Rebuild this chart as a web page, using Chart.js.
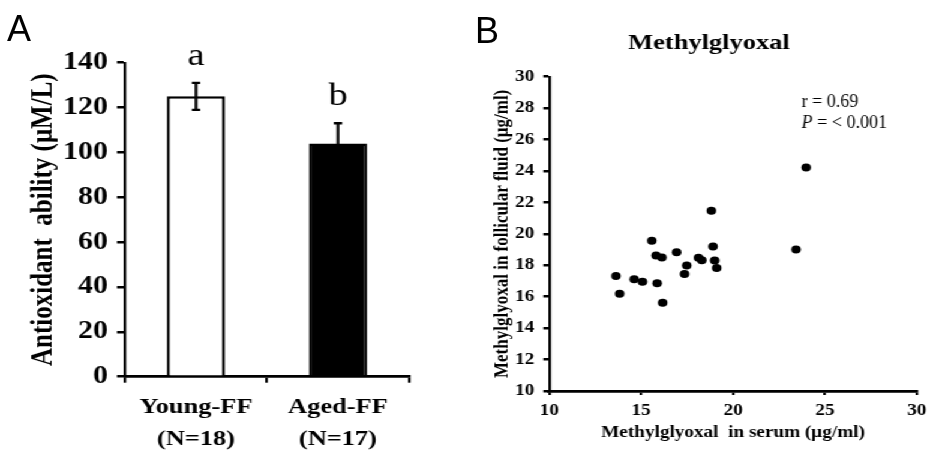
<!DOCTYPE html>
<html><head><meta charset="utf-8">
<script src="https://cdn.jsdelivr.net/npm/chart.js@4"></script>
<style>
html,body{margin:0;padding:0;background:#fff;width:933px;height:450px;overflow:hidden;}
#stretch{position:absolute;left:0;top:0;width:778px;height:450px;transform:scaleX(1.2);transform-origin:0 0;}
#cA{position:absolute;left:0;top:0;}
#cB{position:absolute;left:388px;top:0;}
.panel{position:absolute;font-family:'Liberation Sans',Arial,sans-serif;font-size:36px;line-height:1;color:#000;}
</style></head><body>
<div id="stretch"><canvas id="cA" width="388" height="450"></canvas><canvas id="cB" width="390" height="450"></canvas></div>
<div class="panel" style="left:7px;top:11px;">A</div>
<div class="panel" style="left:475px;top:13px;">B</div>
<script>
// ---- Panel A data ----
const groupNames = ['Young-FF', 'Aged-FF'];
const groupSizes = ['(N=18)', '(N=17)'];
const antioxidantMean = [125, 104];
const antioxidantSD = [6, 9];
const groupLetters = ['a', 'b'];
const barFills = ['#ffffff', '#000000'];
const antioxidantMin = 0, antioxidantMax = 140, antioxidantStep = 20;

// ---- Panel B data ----
const serumMG = [13.63, 13.83, 14.62, 15.07, 15.58, 15.81, 15.87, 16.13, 16.17, 16.93, 17.36, 17.48, 18.12, 18.30, 18.82, 18.91, 19.00, 19.11, 23.43, 23.98];
const follicularMG = [17.32, 16.19, 17.11, 16.95, 19.56, 18.63, 16.85, 18.50, 15.61, 18.83, 17.45, 17.99, 18.48, 18.32, 21.47, 19.20, 18.31, 17.82, 19.01, 24.23];
const serumMin = 10, serumMax = 30, serumStep = 5;
const follicularMin = 10, follicularMax = 30, follicularStep = 2;
const corrR = 'r = 0.69';
const corrP = '= < 0.001';

const SX = 1.2;
const serif = "'Liberation Serif', 'Times New Roman', serif";
const boldFont = (size, lh) => ({family: serif, weight: 'bold', size: size, lineHeight: lh || 1.2});

const errorBarPlugin = {
  id: 'errorBars',
  afterDatasetsDraw(chart) {
    const {ctx, scales: {y}} = chart;
    const meta = chart.getDatasetMeta(0);
    ctx.save();
    ctx.strokeStyle = '#000';
    ctx.lineWidth = 2.3;
    meta.data.forEach((bar, i) => {
      const cx = bar.x;
      const yTop = y.getPixelForValue(antioxidantMean[i] + antioxidantSD[i]);
      const yBot = y.getPixelForValue(antioxidantMean[i] - antioxidantSD[i]);
      const cap = 3.5;
      ctx.beginPath();
      ctx.moveTo(cx, yTop); ctx.lineTo(cx, yBot);
      ctx.moveTo(cx - cap, yTop); ctx.lineTo(cx + cap, yTop);
      ctx.moveTo(cx - cap, yBot); ctx.lineTo(cx + cap, yBot);
      ctx.stroke();
      ctx.fillStyle = '#000';
      ctx.font = "32px " + serif;
      ctx.textAlign = 'center';
      ctx.textBaseline = 'alphabetic';
      ctx.fillText(groupLetters[i], cx, yTop - 18);
    });
    ctx.restore();
  }
};

new Chart(document.getElementById('cA'), {
  type: 'bar',
  data: {
    labels: groupNames.map((n, i) => [n, groupSizes[i]]),
    datasets: [{
      data: antioxidantMean,
      backgroundColor: barFills,
      borderColor: '#000',
      borderWidth: 2.5,
      borderSkipped: 'bottom',
      categoryPercentage: 1,
      barPercentage: 0.41
    }]
  },
  options: {
    responsive: false,
    animation: false,
    devicePixelRatio: 1,
    layout: {padding: {left: 0, right: 47.2, top: 62.7, bottom: 0}},
    plugins: {legend: {display: false}, tooltip: {enabled: false}},
    scales: {
      x: {
        grid: {display: true, drawOnChartArea: false, drawTicks: true, tickLength: 6, color: '#000', lineWidth: 2.2, offset: true},
        border: {display: true, color: '#000', width: 2.7},
        ticks: {font: boldFont(22, 1.45), color: '#000', padding: 9, maxRotation: 0, autoSkip: false},
        afterFit(s) { s.height = 73.3; }
      },
      y: {
        min: antioxidantMin, max: antioxidantMax,
        grid: {display: true, drawOnChartArea: false, drawTicks: true, tickLength: 6.7, color: '#000', lineWidth: 2.5},
        border: {display: true, color: '#000', width: 2.2},
        ticks: {stepSize: antioxidantStep, font: boldFont(25), color: '#000', padding: 7.5},
        title: {display: true, text: 'Antioxidant  ability (μM/L)', font: boldFont(25), color: '#000', padding: {top: 22, bottom: 0}},
        afterFit(s) { s.width = 104.2; }
      }
    }
  },
  plugins: [errorBarPlugin]
});

const annotatePlugin = {
  id: 'annotateB',
  afterDraw(chart) {
    const {ctx} = chart;
    ctx.save();
    ctx.fillStyle = '#000';
    ctx.font = "bold 22px " + serif;
    ctx.textAlign = 'center';
    ctx.textBaseline = 'middle';
    ctx.fillText('Methylglyoxal', 202.8, 43);
    // correlation text (not stretched in reference)
    ctx.textAlign = 'left';
    ctx.textBaseline = 'alphabetic';
    ctx.translate(280.1, 0);
    ctx.scale(1 / SX, 1);
    ctx.font = "18px " + serif;
    ctx.fillText(corrR, 0, 107.3);
    ctx.font = "italic 18px " + serif;
    ctx.fillText('P', 0, 128.3);
    const pw = ctx.measureText('P ').width;
    ctx.font = "18px " + serif;
    ctx.fillText(corrP, pw, 128.3);
    ctx.restore();
  }
};

new Chart(document.getElementById('cB'), {
  type: 'scatter',
  data: {
    datasets: [{
      data: serumMG.map((v, i) => ({x: v, y: follicularMG[i]})),
      backgroundColor: '#000',
      borderWidth: 0,
      pointRadius: 4,
      pointHoverRadius: 4
    }]
  },
  options: {
    responsive: false,
    animation: false,
    devicePixelRatio: 1,
    layout: {padding: {left: 0, right: 8.6, top: 76.7, bottom: 0}},
    plugins: {legend: {display: false}, tooltip: {enabled: false}},
    scales: {
      x: {
        type: 'linear', min: serumMin, max: serumMax,
        grid: {display: true, drawOnChartArea: false, drawTicks: true, tickLength: 4, color: '#000', lineWidth: 2.2},
        border: {display: true, color: '#000', width: 2.7},
        ticks: {stepSize: serumStep, font: boldFont(16), color: '#000', padding: 6, maxRotation: 0},
        title: {display: true, text: 'Methylglyoxal  in serum (μg/ml)', font: boldFont(16), color: '#000', padding: {top: 0, bottom: 7.4}},
        afterFit(s) { s.height = 59; }
      },
      y: {
        type: 'linear', min: follicularMin, max: follicularMax,
        grid: {display: true, drawOnChartArea: false, drawTicks: true, tickLength: 5, color: '#000', lineWidth: 2.5},
        border: {display: true, color: '#000', width: 2.2},
        ticks: {stepSize: follicularStep, font: boldFont(16), color: '#000', padding: 7.5},
        title: {display: true, text: 'Methylglyoxal in follicular fluid (μg/ml)', font: boldFont(17), color: '#000', padding: {top: 20, bottom: 0}},
        afterFit(s) { s.width = 69.75; }
      }
    }
  },
  plugins: [annotatePlugin]
});
</script>
</body></html>
